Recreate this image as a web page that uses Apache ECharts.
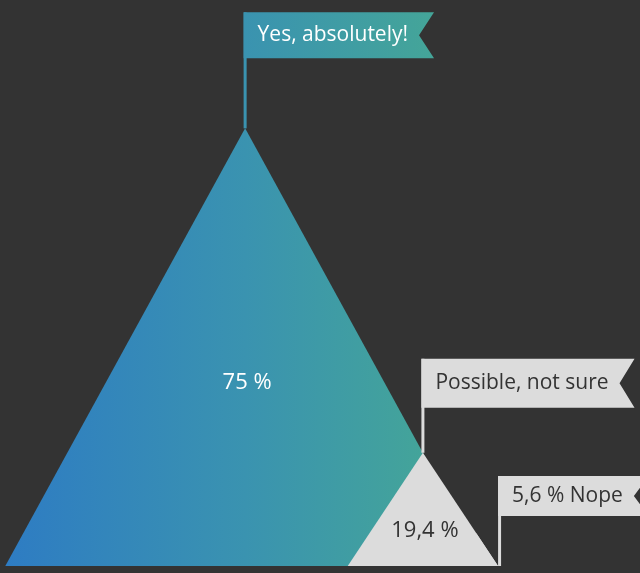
<!DOCTYPE html>
<html>
<head>
<meta charset="utf-8">
<title>Survey answers</title>
<script src="https://cdn.jsdelivr.net/npm/echarts@6/dist/echarts.min.js"></script>
<style>
  html, body { margin: 0; padding: 0; background: #333333; }
  #chart { width: 640px; height: 573px; }
</style>
</head>
<body>
<div id="chart"></div>
<script>
// Answers and their shares
const categories = ['Yes, absolutely!', 'Possible, not sure', 'Nope'];
const values = [75, 19.4, 5.6];
// Whether the share is printed inside the triangle or in front of the flag text
const insideLabel = [true, true, false];

// Drawing layout (pixels unless noted)
const layout = {
  apexX: 38.3,                 // x-axis units: apex of the first triangle
  spread: [0.548, 0.664, 0.664], // base half-width relative to triangle height
  labelRise: [0.418, 0.31, 0.3], // inside label height, share of triangle height
  flagAnchor: ['apex', 'apex', 'corner'],
  flagLift: [116, 94, 90],     // from anchor point up to flag top
  flagHeight: [46, 49, 40],
  poleWidth: 3,
  padLeft: 14,
  padRight: 11,
  notch: 15
};

const FONT_FAMILY = '"Open Sans", Lato, sans-serif';
const flagFont = '21px ' + FONT_FAMILY;
const valueFont = '22px ' + FONT_FAMILY;
const LIGHT = '#dcdcdc';
const DARK_TEXT = '#333333';

const measureCtx = document.createElement('canvas').getContext('2d');
function textWidth(text, font) {
  measureCtx.font = font;
  return measureCtx.measureText(text).width;
}

function formatShare(v) {
  return String(v).replace('.', ',') + ' %';
}

// Triangle geometry in pixels; each later triangle leans on the right edge of the previous one
function triangles(api) {
  const out = [];
  values.forEach(function (v, i) {
    const basePt = api.coord([layout.apexX, 0]);
    const topPt = api.coord([layout.apexX, v]);
    const base = basePt[1];
    const top = topPt[1];
    const h = base - top;
    let ax;
    if (i === 0) {
      ax = basePt[0];
    } else {
      const p = out[i - 1];
      ax = p.ax + (p.hw / p.h) * (top - p.top);
    }
    const hw = layout.spread[i] * h;
    out.push({ ax: ax, top: top, base: base, h: h, hw: hw });
  });
  return out;
}

function blueGradient(t) {
  return new echarts.graphic.LinearGradient(
    t.ax - t.hw, 0, t.ax + t.hw, 0,
    [
      { offset: 0, color: '#2e7cc3' },
      { offset: 0.5, color: '#3a93b0' },
      { offset: 1, color: '#47aa92' }
    ],
    true
  );
}

function renderItem(params, api) {
  const i = params.dataIndex;
  const tris = triangles(api);
  const t = tris[i];
  const fill = i === 0 ? blueGradient(tris[0]) : LIGHT;
  const textColor = i === 0 ? '#ffffff' : DARK_TEXT;
  const children = [];

  children.push({
    type: 'polygon',
    shape: { points: [[t.ax, t.top], [t.ax + t.hw, t.base], [t.ax - t.hw, t.base]] },
    style: { fill: fill }
  });

  if (insideLabel[i]) {
    children.push({
      type: 'text',
      style: {
        text: formatShare(values[i]),
        x: t.ax + 2,
        y: t.base - layout.labelRise[i] * t.h,
        fill: textColor,
        font: valueFont,
        align: 'center',
        verticalAlign: 'middle'
      }
    });
  }

  // Flag on a pole
  const anchorX = layout.flagAnchor[i] === 'apex' ? t.ax - layout.poleWidth / 2 : t.ax + t.hw;
  const anchorY = layout.flagAnchor[i] === 'apex' ? t.top : t.base;
  const fTop = anchorY - layout.flagLift[i];
  const fh = layout.flagHeight[i];
  const flagText = insideLabel[i] ? categories[i] : formatShare(values[i]) + ' ' + categories[i];
  const fw = layout.padLeft + textWidth(flagText, flagFont) + layout.padRight + layout.notch;
  const fLeft = anchorX;
  const fRight = fLeft + fw;

  children.push({
    type: 'rect',
    shape: { x: anchorX, y: fTop, width: layout.poleWidth, height: anchorY - fTop },
    style: { fill: fill }
  });
  children.push({
    type: 'polygon',
    shape: {
      points: [
        [fLeft, fTop], [fRight, fTop], [fRight - layout.notch, fTop + fh / 2],
        [fRight, fTop + fh], [fLeft, fTop + fh]
      ]
    },
    style: { fill: fill }
  });
  children.push({
    type: 'text',
    style: {
      text: flagText,
      x: fLeft + layout.padLeft,
      y: fTop + fh / 2,
      fill: textColor,
      font: flagFont,
      align: 'left',
      verticalAlign: 'middle'
    }
  });

  return { type: 'group', children: children };
}

const chart = echarts.init(document.getElementById('chart'), null, { renderer: 'canvas' });
chart.setOption({
  backgroundColor: '#333333',
  animation: false,
  grid: { left: 0, right: 0, top: 0, bottom: 7 },
  xAxis: { type: 'value', min: 0, max: 100, show: false },
  yAxis: { type: 'value', min: 0, max: 97, show: false },
  tooltip: { show: false },
  series: [{
    type: 'custom',
    renderItem: renderItem,
    clip: false,
    data: values.map(function (v, i) { return { name: categories[i], value: [i, v] }; })
  }]
});
</script>
</body>
</html>
